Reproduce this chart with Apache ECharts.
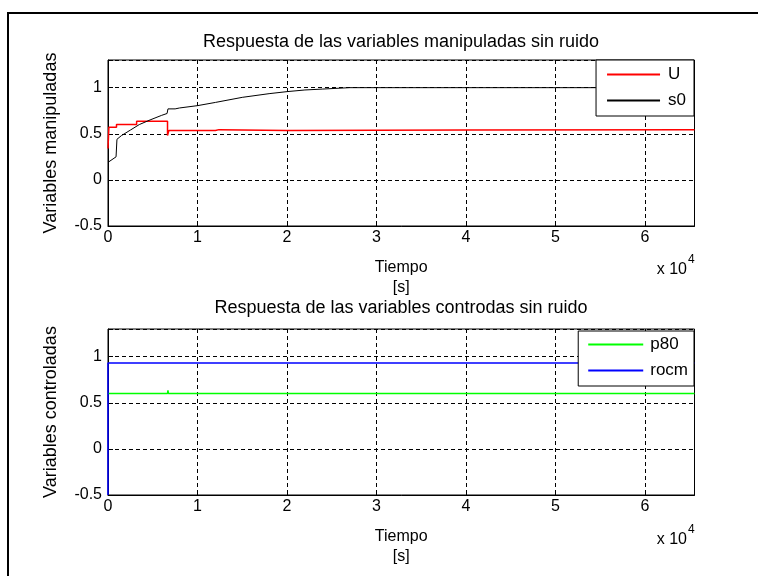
<!DOCTYPE html>
<html>
<head>
<meta charset="utf-8" />
<script src="https://cdn.jsdelivr.net/npm/echarts@6/dist/echarts.min.js"></script>
<title>Respuesta sin ruido</title>
<style>
    html, body { margin: 0; background: #fff; }
    #main { width: 758px; height: 576px; }
</style>
</head>
<body>
<div id="main"></div>
<script>
    // U (manipulada), retenida por tramos
    var tU = [0, 100, 950, 2400, 2600, 3200, 6650, 6800, 12000, 12400, 20000, 40000, 65536];
    var U = [0.34, 0.57, 0.60, 0.615, 0.60, 0.635, 0.48, 0.535, 0.545, 0.535, 0.54, 0.545, 0.545];
    // s0
    var tS0 = [0, 900, 1000, 1500, 2500, 3500, 4700, 6000, 6600, 6700, 7500, 8000, 10000, 12000, 15000, 18000, 20000, 22000, 24000, 27000, 65536];
    var s0 = [0.19, 0.25, 0.44, 0.48, 0.54, 0.60, 0.65, 0.70, 0.72, 0.77, 0.77, 0.78, 0.805, 0.84, 0.895, 0.935, 0.957, 0.975, 0.985, 1.0, 1.0];
    // controladas
    var tP80 = [0, 6650, 6700, 6750, 65536];
    var p80 = [0.60, 0.60, 0.635, 0.60, 0.60];
    var tRocm = [0, 0, 65536];
    var rocm = [-0.5, 0.93, 0.93];

    var xTicks = ['0', '1', '2', '3', '4', '5', '6'];

    var FONT = 'Liberation Sans';

    function zip(t, v) {
        return t.map(function (x, i) { return [x, v[i]]; });
    }

    function xAxisOf(idx) {
        return {
            gridIndex: idx,
            type: 'value',
            min: 0,
            max: 65536,
            interval: 10000,
            name: 'Tiempo\n[s]',
            nameLocation: 'middle',
            nameGap: 32,
            nameTextStyle: { color: '#000', fontFamily: FONT, fontSize: 16, lineHeight: 20 },
            axisLine: { onZero: false, lineStyle: { color: '#000', width: 1 } },
            axisTick: { inside: true, length: 5, lineStyle: { color: '#000' } },
            axisLabel: {
                color: '#000', fontFamily: FONT, fontSize: 16, margin: 4,
                formatter: function (v) { return v % 10000 === 0 ? xTicks[v / 10000] : ''; }
            },
            splitLine: { show: true, lineStyle: { color: '#000', type: [4, 3], width: 1 } }
        };
    }

    function yAxisOf(idx, name) {
        return {
            gridIndex: idx,
            type: 'value',
            min: -0.5,
            max: 1.3,
            interval: 0.5,
            name: name,
            nameLocation: 'middle',
            nameGap: 48,
            nameTextStyle: { color: '#000', fontFamily: FONT, fontSize: 18 },
            axisLine: { show: true, onZero: false, lineStyle: { color: '#000', width: 1 } },
            axisTick: { inside: true, length: 5, lineStyle: { color: '#000' } },
            axisLabel: {
                color: '#000', fontFamily: FONT, fontSize: 16, margin: 6,
                formatter: function (v) { return Math.abs(v - 1.3) < 1e-6 ? '' : String(v); }
            },
            splitLine: { show: true, lineStyle: { color: '#000', type: [4, 3], width: 1 } }
        };
    }

    function legendOf(names, top, pad, w, gap) {
        return {
            data: names,
            orient: 'vertical',
            right: 64,
            top: top,
            padding: pad,
            itemGap: 9,
            itemWidth: w,
            itemHeight: 2,
            icon: 'rect',
            backgroundColor: '#fff',
            borderColor: '#000',
            borderWidth: 1,
            borderRadius: 0,
            textStyle: { color: '#000', fontFamily: FONT, fontSize: 17, lineHeight: 17, padding: [0, 0, 0, gap] }
        };
    }

    function line(name, data, color, width, xi, yi, step) {
        return {
            name: name,
            type: 'line',
            xAxisIndex: xi,
            yAxisIndex: yi,
            data: data,
            step: step || false,
            symbol: 'none',
            animation: false,
            lineStyle: { color: color, width: width },
            itemStyle: { color: color }
        };
    }

    function x10(y) {
        return [
            {
                type: 'text', x: 687, y: y,
                style: { text: 'x 10', align: 'right', verticalAlign: 'middle', fontFamily: FONT, fontSize: 16, fill: '#000' }
            },
            {
                type: 'text', x: 688, y: y - 10,
                style: { text: '4', align: 'left', verticalAlign: 'middle', fontFamily: FONT, fontSize: 12, fill: '#000' }
            }
        ];
    }

    var chart = echarts.init(document.getElementById('main'));
    var option = {
        backgroundColor: '#fff',
        animation: false,
        grid: [
            { left: 108, top: 60, width: 586.5, height: 166, show: true, borderColor: '#000', borderWidth: 1, containLabel: false },
            { left: 108, top: 329, width: 586.5, height: 166, show: true, borderColor: '#000', borderWidth: 1, containLabel: false }
        ],
        xAxis: [xAxisOf(0), xAxisOf(1)],
        yAxis: [yAxisOf(0, 'Variables manipuladas'), yAxisOf(1, 'Variables controladas')],
        legend: [
            legendOf(['U', 's0'], 60, [6, 8, 7, 11], 53, 3),
            legendOf(['p80', 'rocm'], 331, [5, 6, 7, 10], 55, 2)
        ],
        series: [
            line('U', zip(tU, U), '#ff0000', 1.5, 0, 0, 'end'),
            line('s0', zip(tS0, s0), '#000000', 1, 0, 0),
            line('p80', zip(tP80, p80), '#00ff00', 1.5, 1, 1),
            line('rocm', zip(tRocm, rocm), '#0000ff', 1.5, 1, 1)
        ],
        graphic: [
            {
                type: 'rect',
                shape: { x: 8, y: 13, width: 780, height: 600 },
                style: { fill: 'none', stroke: '#000', lineWidth: 2 },
                silent: true
            },
            {
                type: 'text', x: 401, y: 42,
                style: { text: 'Respuesta de las variables manipuladas sin ruido', align: 'center', verticalAlign: 'middle', fontFamily: FONT, fontSize: 18, fill: '#000' }
            },
            {
                type: 'text', x: 401, y: 308,
                style: { text: 'Respuesta de las variables controdas sin ruido', align: 'center', verticalAlign: 'middle', fontFamily: FONT, fontSize: 18, fill: '#000' }
            }
        ].concat(x10(270), x10(540))
    };
    chart.setOption(option);
</script>
</body>
</html>
